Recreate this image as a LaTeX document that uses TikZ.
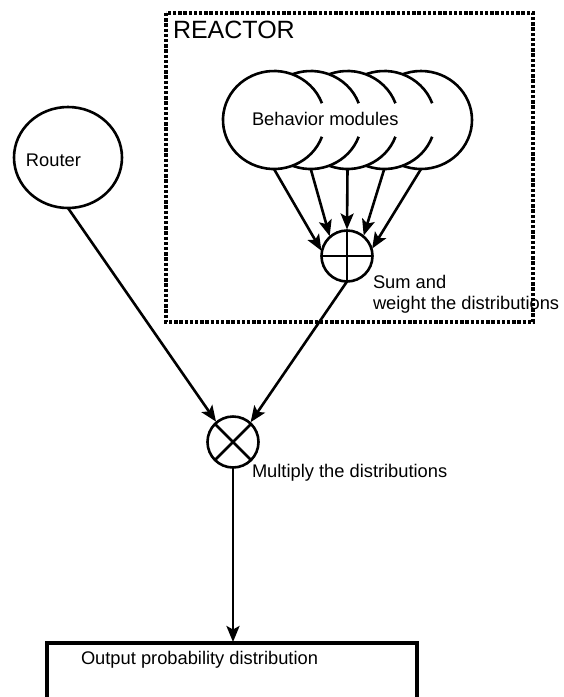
\documentclass[tikz,border=0pt]{standalone}
\usepackage{fontspec}
\setmainfont{Liberation Sans}
\usetikzlibrary{shapes,arrows.meta}

\begin{document}
\begin{tikzpicture}[x=1pt,y=-1pt]
\tikzstyle{every node}+=[inner sep=0pt,outer sep=0pt]
\tikzstyle{line}=[black,line width=2.6pt]
\tikzstyle{arr}=[line,shorten >=1pt,-{Stealth[length=16pt,width=13pt,inset=3.5pt]}]
\tikzstyle{module}=[ellipse,fill=white,minimum width=102pt,minimum height=98pt]
\tikzstyle{op}=[circle,draw,line width=2.6pt,minimum size=51pt]
\tikzstyle{lbl}=[anchor=base west,font=\fontsize{18.3}{21}\selectfont]
\useasboundingbox (0,0) rectangle (563,697);
\clip (0,0) rectangle (563,697);
\draw [black,line width=3.2pt,dash pattern=on 3.4pt off 1.8pt] (166,13) rectangle (533,322);
\node [lbl,font=\fontsize{25}{30}\selectfont] (reactor) at (173,38.5) {REACTOR};
\foreach \i/\g in {5/0,4/20,3/20,2/20,1/20} {
  \node [module] (m\i) at ({274+36.75*(\i-1)},120) {};
  \draw [line] (m\i.center) ++(\g:51 and 49) arc [start angle=\g,end angle=360-\g,x radius=51,y radius=49];
}
\node [lbl] (modtxt) at (252,125) {Behavior modules};
\node [op] (sum) at (347,256) {};
\draw [line] (sum.north) -- (sum.south) (sum.west) -- (sum.east);
\node [lbl,align=left] (sumtxt) at (373,309) {Sum and\\weight the distributions};
\node [ellipse,draw,line width=2.6pt,minimum width=108pt,minimum height=101pt] (router) at (68,157.5) {};
\node [lbl] (routertxt) at (26,166) {Router};
\node [op] (mul) at (233,442) {};
\draw [line] (mul.45) -- (mul.225) (mul.135) -- (mul.315);
\node [lbl] (multxt) at (252,477) {Multiply the distributions};
\node [draw,line width=3.4pt,minimum width=370pt,minimum height=120pt,anchor=north] (out) at (232,643) {};
\node [lbl] (outtxt) at (81,664) {Output probability distribution};
\draw [arr] (m1.south) -- (sum.170);
\draw [arr] (m2.south) -- (sum.132);
\draw [arr] (m3.south) -- (sum.90);
\draw [arr] (m4.south) -- (sum.50);
\draw [arr] (m5.south) -- (sum.15);
\draw [arr] (router.south) -- (mul.130);
\draw [arr] (sum.south) -- (mul.48);
\draw [arr] (mul.south) -- (mul.south |- out.north);
\end{tikzpicture}
\end{document}
